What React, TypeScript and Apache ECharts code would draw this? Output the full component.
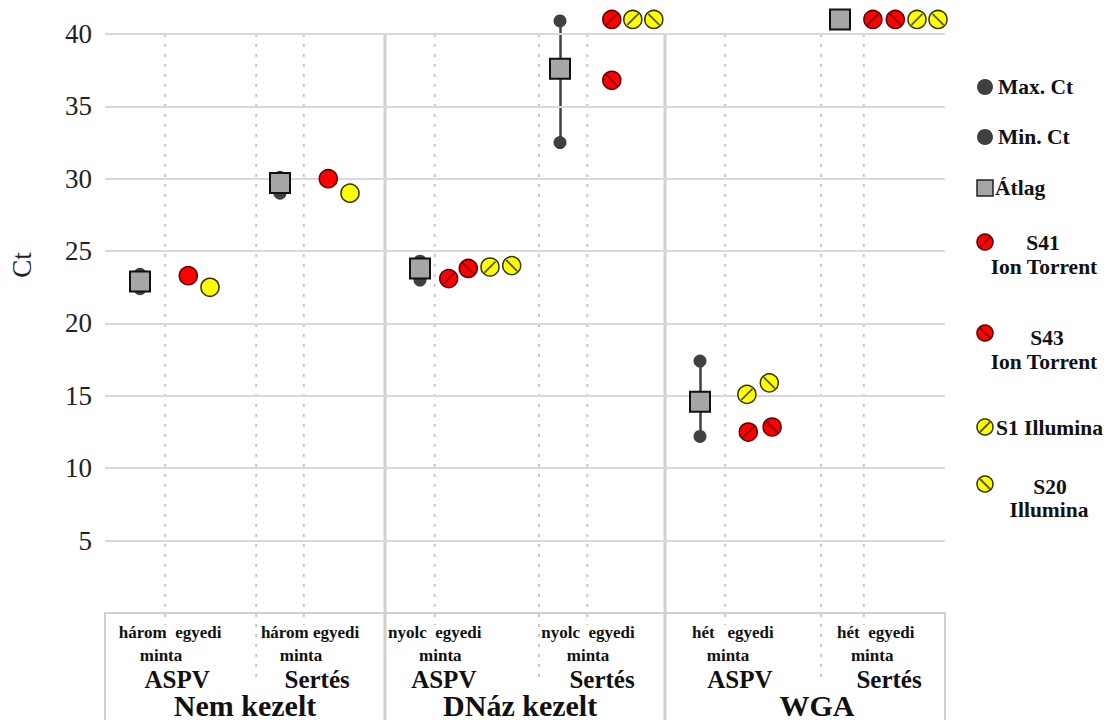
import React, { useEffect, useRef } from "react";
import * as echarts from "echarts";

// ---------- data ----------
const groupNames = ["Nem kezelt", "DNáz kezelt", "WGA"];
const groupLabelX = [2.0, 5.93, 10.17];
const subgroupNames = ["ASPV", "Sertés", "ASPV", "Sertés", "ASPV", "Sertés"];
const subgroupLabelX = [1.03, 3.03, 4.84, 7.1, 9.07, 11.2];
const sampleCountText = ["három  egyedi", "három egyedi", "nyolc  egyedi", "nyolc  egyedi", "hét   egyedi", "hét  egyedi"];
const sampleCountX = [0.93, 2.93, 4.71, 6.9, 8.97, 11.01];
const mintaX = [0.8, 2.8, 4.79, 6.9, 8.9, 10.96];

const yTicks = [5, 10, 15, 20, 25, 30, 35, 40];
const groupBoundaries = [4, 8];
const dottedX = [0.86, 2.16, 2.84, 4.71, 6.2, 6.89, 8.86, 10.23, 10.84];
const dottedLong = [false, true, false, false, true, false, false, true, false];

// mean / min / max Ct for each subgroup
const meanX = [0.5, 2.5, 4.5, 6.5, 8.5, 10.5];
const meanCt = [22.9, 29.7, 23.8, 37.6, 14.6, 41];
const maxCt = [23.4, 30.1, 24.3, 40.9, 17.4, 41];
const minCt = [22.4, 29.0, 23.0, 32.5, 12.2, 41];

// untreated samples (plain markers)
const nkIonX = [1.19, 3.19];
const nkIonCt = [23.3, 30.0];
const nkIllX = [1.5, 3.5];
const nkIllCt = [22.5, 29.0];

// hatched samples
const s41X = [4.91, 7.24, 9.19, 10.97];
const s41Ct = [23.1, 41, 12.5, 41];
const s43X = [5.19, 7.24, 9.53, 11.29];
const s43Ct = [23.8, 36.8, 12.85, 41];
const s1X = [5.5, 7.54, 9.17, 11.6];
const s1Ct = [23.9, 41, 15.1, 41];
const s20X = [5.81, 7.84, 9.49, 11.9];
const s20Ct = [24.0, 41, 15.9, 41];

// ---------- styles ----------
const SERIF = "Liberation Serif, Tinos, Times New Roman, DejaVu Serif, serif";
const RED = "#ff0000";
const RED_EDGE = "#5a0000";
const RED_HATCH = "#7a0000";
const YEL = "#ffff00";
const YEL_EDGE = "#333300";
const YEL_HATCH = "#555500";
const DARK = "#404040";
const GRID = "#d9d9d9";

const SLASH = "path://M0,10L10,0";
const BACK = "path://M0,0L10,10";

const pairs = (xs: number[], ys: number[]) => xs.map((x, i) => [x, ys[i]]);

function circleSeries(name: string, xs: number[], ys: number[], fill: string, edge: string) {
  return {
    name,
    type: "scatter",
    data: pairs(xs, ys),
    symbol: "circle",
    symbolSize: 18,
    itemStyle: { color: fill, borderColor: edge, borderWidth: 1.5, opacity: 1 },
    z: 6,
  };
}
function hatchSeries(name: string, xs: number[], ys: number[], path: string, col: string) {
  return {
    name: name + "-hatch",
    type: "scatter",
    data: pairs(xs, ys),
    symbol: path,
    symbolSize: 11,
    itemStyle: { color: "transparent", borderColor: col, borderWidth: 1.8, opacity: 1 },
    z: 7,
  };
}

export default function App() {
  const ref = useRef<HTMLDivElement>(null);

  useEffect(() => {
    if (!ref.current) return;
    const chart = echarts.init(ref.current, undefined, { renderer: "svg" });

    chart.setOption({
      animation: false,
      backgroundColor: "#ffffff",
      textStyle: { fontFamily: SERIF },
      grid: { left: 105, right: 167, top: 5, bottom: 107 },
      xAxis: { type: "value", min: 0, max: 12, show: false },
      yAxis: {
        type: "value",
        min: 0,
        max: 42,
        interval: 5,
        axisLine: { show: false },
        axisTick: { show: false },
        splitLine: { show: false },
        axisLabel: {
          margin: 13,
          fontFamily: SERIF,
          fontSize: 27,
          color: "#222",
          formatter: (v: number) => (v > 0 && v <= 40 && v % 5 === 0 ? String(v) : ""),
        },
      },
      series: [
        {
          name: "grid",
          type: "scatter",
          data: [],
          markLine: {
            silent: true,
            symbol: ["none", "none"],
            label: { show: false },
            lineStyle: { color: GRID, width: 2, type: "solid" },
            data: yTicks.map((v) => ({ yAxis: v })),
          },
        },
        {
          name: "range",
          type: "lines",
          coordinateSystem: "cartesian2d",
          data: meanX.map((x, i) => ({ coords: [[x, minCt[i]], [x, maxCt[i]]] })),
          lineStyle: { color: DARK, width: 2.5, opacity: 1 },
          z: 3,
        },
        {
          name: "Max. Ct",
          type: "scatter",
          data: pairs(meanX, maxCt),
          symbol: "circle",
          symbolSize: 13,
          itemStyle: { color: DARK, opacity: 1 },
          z: 4,
        },
        {
          name: "Min. Ct",
          type: "scatter",
          data: pairs(meanX, minCt),
          symbol: "circle",
          symbolSize: 13,
          itemStyle: { color: DARK, opacity: 1 },
          z: 4,
        },
        {
          name: "Átlag",
          type: "scatter",
          data: pairs(meanX, meanCt),
          symbol: "rect",
          symbolSize: 20,
          itemStyle: { color: "#a6a6a6", borderColor: "#111", borderWidth: 2, opacity: 1 },
          z: 5,
        },
        circleSeries("Ion Torrent", nkIonX, nkIonCt, RED, RED_EDGE),
        circleSeries("Illumina", nkIllX, nkIllCt, YEL, YEL_EDGE),
        circleSeries("S41", s41X, s41Ct, RED, RED_EDGE),
        hatchSeries("S41", s41X, s41Ct, SLASH, RED_HATCH),
        circleSeries("S43", s43X, s43Ct, RED, RED_EDGE),
        hatchSeries("S43", s43X, s43Ct, BACK, RED_HATCH),
        circleSeries("S1", s1X, s1Ct, YEL, YEL_EDGE),
        hatchSeries("S1", s1X, s1Ct, SLASH, YEL_HATCH),
        circleSeries("S20", s20X, s20Ct, YEL, YEL_EDGE),
        hatchSeries("S20", s20X, s20Ct, BACK, YEL_HATCH),
      ],
    });

    const px = (x: number) => chart.convertToPixel({ gridIndex: 0 }, [x, 0])[0] as number;
    const py = (y: number) => chart.convertToPixel({ gridIndex: 0 }, [0, y])[1] as number;
    const H = 720;
    const y0 = py(0);
    const yTop = py(40);
    const line = (x1: number, y1: number, x2: number, y2: number, style: any) => ({
      type: "line",
      silent: true,
      shape: { x1, y1, x2, y2 },
      style,
      z: 1,
    });
    const text = (t: string, x: number, y: number, size: number, weight: string, align = "center") => ({
      type: "text",
      silent: true,
      x,
      y,
      style: {
        text: t,
        fontFamily: SERIF,
        fontSize: size,
        fontWeight: weight,
        fill: "#111",
        align,
        verticalAlign: "middle",
      },
      z: 10,
    });

    const g: any[] = [];
    // bottom category box
    g.push({
      type: "rect",
      silent: true,
      shape: { x: px(0), y: y0, width: px(12) - px(0), height: H - y0 + 10 },
      style: { fill: "none", stroke: "#d0d0d0", lineWidth: 2 },
      z: 1,
    });
    groupBoundaries.forEach((b) => {
      g.push(line(px(b), yTop, px(b), H, { stroke: "#d0d0d0", lineWidth: 3 }));
    });
    dottedX.forEach((x, i) => {
      g.push(
        line(px(x), yTop, px(x), y0 + (dottedLong[i] ? 68 : 12), {
          stroke: "#c8c8c8",
          lineWidth: 2,
          lineDash: [3, 7],
        })
      );
    });
    // category texts
    sampleCountText.forEach((t, i) => {
      g.push(text(t, px(sampleCountX[i]), 632, 17, "bold"));
      g.push(text("minta", px(mintaX[i]), 655, 17, "bold"));
      g.push(text(subgroupNames[i], px(subgroupLabelX[i]), 679, 25, "bold"));
    });
    groupNames.forEach((t, i) => {
      g.push(text(t, px(groupLabelX[i]), 705, 30, "bold"));
    });
    // y axis title
    g.push({
      type: "text",
      silent: true,
      x: 22,
      y: 265,
      rotation: Math.PI / 2,
      style: {
        text: "Ct",
        fontFamily: SERIF,
        fontSize: 27,
        fill: "#222",
        align: "center",
        verticalAlign: "middle",
      },
      z: 10,
    });

    // legend
    const LX = 985;
    const circ = (cy: number, r: number, fill: string, stroke?: string) => ({
      type: "circle",
      silent: true,
      shape: { cx: LX, cy, r },
      style: { fill, stroke: stroke || "none", lineWidth: 1.5 },
      z: 10,
    });
    const hatch = (cy: number, slash: boolean, col: string) => {
      const d = 5;
      return {
        type: "line",
        silent: true,
        shape: slash
          ? { x1: LX - d, y1: cy + d, x2: LX + d, y2: cy - d }
          : { x1: LX - d, y1: cy - d, x2: LX + d, y2: cy + d },
        style: { stroke: col, lineWidth: 1.8 },
        z: 11,
      };
    };
    const LF = 21.5;
    g.push(circ(87, 8, DARK));
    g.push(text("Max. Ct", 998, 87, LF, "bold", "left"));
    g.push(circ(137, 8, DARK));
    g.push(text("Min. Ct", 998, 137, LF, "bold", "left"));
    g.push({
      type: "rect",
      silent: true,
      shape: { x: LX - 8, y: 180, width: 16, height: 16 },
      style: { fill: "#a6a6a6", stroke: "#222", lineWidth: 1.5 },
      z: 10,
    });
    g.push(text("Átlag", 995, 188, LF, "bold", "left"));

    g.push(circ(242, 8, RED, RED_EDGE));
    g.push(hatch(242, true, RED_HATCH));
    g.push(text("S41", 1043, 243, LF, "bold"));
    g.push(text("Ion Torrent", 1044, 267, LF, "bold"));

    g.push(circ(333, 8, RED, RED_EDGE));
    g.push(hatch(333, false, RED_HATCH));
    g.push(text("S43", 1047, 338, LF, "bold"));
    g.push(text("Ion Torrent", 1044, 362, LF, "bold"));

    g.push(circ(427, 8, YEL, YEL_EDGE));
    g.push(hatch(427, true, YEL_HATCH));
    g.push(text("S1 Illumina", 996, 428, LF, "bold", "left"));

    g.push(circ(484, 8, YEL, YEL_EDGE));
    g.push(hatch(484, false, YEL_HATCH));
    g.push(text("S20", 1050, 487, LF, "bold"));
    g.push(text("Illumina", 1049, 510, LF, "bold"));

    chart.setOption({ graphic: g });

    return () => chart.dispose();
  }, []);

  return (
    <div
      ref={ref}
      style={{ position: "fixed", left: 0, top: 0, width: 1112, height: 720, background: "#fff" }}
    />
  );
}
